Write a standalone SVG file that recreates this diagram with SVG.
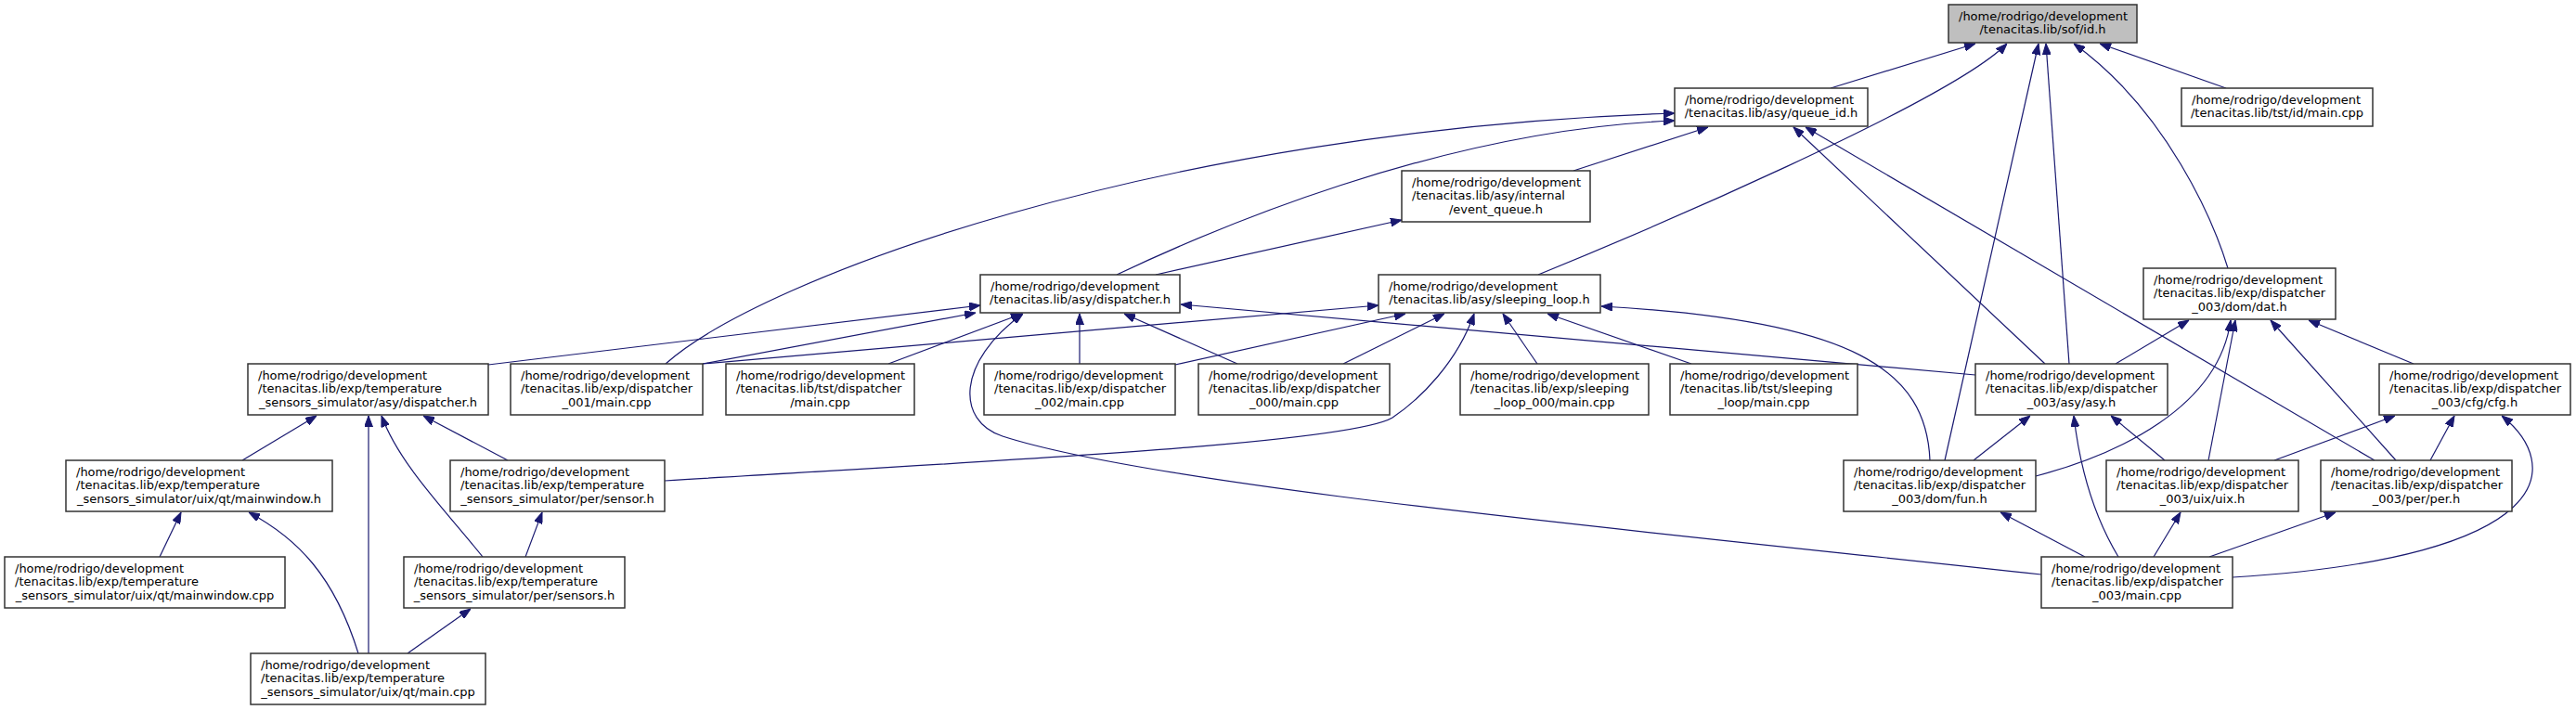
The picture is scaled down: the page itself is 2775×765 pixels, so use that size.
<svg xmlns="http://www.w3.org/2000/svg" width="2775" height="765" viewBox="0 0 2775 765">
<style>
.b{fill:#fff;stroke:#333;stroke-width:1.5}
.g{fill:#bfbfbf;stroke:#333;stroke-width:1.5}
text{font-family:"DejaVu Sans","Liberation Sans",sans-serif;font-size:13px;fill:#000}
.m{text-anchor:middle}
.e path{fill:none;stroke:#191970;stroke-width:1.2;marker-end:url(#ah)}
</style>
<defs>
<marker id="ah" markerWidth="12" markerHeight="9" refX="12" refY="4.5" orient="auto" markerUnits="userSpaceOnUse"><path d="M0,0 L12,4.5 L0,9 z" fill="#191970" stroke="#191970" stroke-width="1"/></marker>
</defs>
<rect width="2775" height="765" fill="#fff"/>
<g class="e" id="edges">
<path d="M1972,95 L2128,47"/>
<path d="M1657,296 C1760,254 2100,110 2162,47"/>
<path d="M2095,496 L2196,47"/>
<path d="M2229,392 L2204,47"/>
<path d="M2400,289 C2385,240 2335,120 2234,47"/>
<path d="M2398,95 L2262,47"/>
<path d="M1695,184 L1840,137"/>
<path d="M1203,296 C1300,250 1550,140 1804,130"/>
<path d="M717,392 C820,300 1250,140 1804,122"/>
<path d="M2203,392 L1932,137"/>
<path d="M2558,496 L1945,137"/>
<path d="M1245,296 L1510,237"/>
<path d="M526,393 L1056,329"/>
<path d="M757,392 L1051,337"/>
<path d="M957,392 L1101,338"/>
<path d="M1163,392 L1163,338"/>
<path d="M1333,392 L1211,338"/>
<path d="M2128,404 L1272,328"/>
<path d="M2199,619 C1800,575 1250,525 1080,470 C1030,454 1030,390 1102,338"/>
<path d="M757,392 L1485,329"/>
<path d="M1266,393 L1514,338"/>
<path d="M1447,392 L1556,338"/>
<path d="M716,518 C1000,500 1450,480 1500,450 C1530,430 1570,390 1588,338"/>
<path d="M1656,392 L1619,338"/>
<path d="M1822,392 L1667,338"/>
<path d="M2079,496 C2075,400 2000,345 1725,330"/>
<path d="M261,496 L341,448"/>
<path d="M397,704 L397,448"/>
<path d="M520,600 C480,550 430,500 411,448"/>
<path d="M547,496 L456,448"/>
<path d="M172,600 L195,552"/>
<path d="M386,704 C360,620 320,580 268,552"/>
<path d="M566,600 L584,552"/>
<path d="M439,704 L507,656"/>
<path d="M2279,392 L2358,345"/>
<path d="M2193,513 C2280,490 2390,440 2403,345"/>
<path d="M2379,496 L2408,345"/>
<path d="M2581,496 L2446,345"/>
<path d="M2600,392 L2487,345"/>
<path d="M2126,496 L2187,448"/>
<path d="M2282,600 C2255,555 2240,500 2234,448"/>
<path d="M2332,496 L2274,448"/>
<path d="M2450,496 L2580,448"/>
<path d="M2618,496 L2644,448"/>
<path d="M2405,622 C2760,600 2760,500 2695,448"/>
<path d="M2246,600 L2155,552"/>
<path d="M2320,600 L2349,552"/>
<path d="M2380,600 L2516,552"/>
</g>
<g id="n_id"><rect class="g" x="2099" y="5" width="203" height="41"/><text x="2110" y="21.5">/home/rodrigo/development</text><text class="m" x="2200.5" y="35.5">/tenacitas.lib/sof/id.h</text></g>
<g id="n_queue"><rect class="b" x="1804" y="95" width="208" height="41"/><text x="1815" y="111.5">/home/rodrigo/development</text><text class="m" x="1908" y="125.5">/tenacitas.lib/asy/queue_id.h</text></g>
<g id="n_tstid"><rect class="b" x="2350" y="95" width="206" height="41"/><text x="2361" y="111.5">/home/rodrigo/development</text><text class="m" x="2453" y="125.5">/tenacitas.lib/tst/id/main.cpp</text></g>
<g id="n_evq"><rect class="b" x="1510" y="184" width="203" height="55"/><text x="1521" y="201">/home/rodrigo/development</text><text x="1521" y="215.3">/tenacitas.lib/asy/internal</text><text class="m" x="1611.5" y="229.6">/event_queue.h</text></g>
<g id="n_disp"><rect class="b" x="1056" y="296" width="215" height="41"/><text x="1067" y="312.5">/home/rodrigo/development</text><text class="m" x="1163.5" y="326.5">/tenacitas.lib/asy/dispatcher.h</text></g>
<g id="n_sleep"><rect class="b" x="1485" y="296" width="239" height="41"/><text x="1496" y="312.5">/home/rodrigo/development</text><text class="m" x="1604.5" y="326.5">/tenacitas.lib/asy/sleeping_loop.h</text></g>
<g id="n_dat"><rect class="b" x="2309" y="289" width="207" height="55"/><text x="2320" y="306">/home/rodrigo/development</text><text x="2320" y="320.3">/tenacitas.lib/exp/dispatcher</text><text class="m" x="2412.5" y="334.6">_003/dom/dat.h</text></g>
<g id="n_tdisp"><rect class="b" x="267" y="392" width="259" height="55"/><text x="278" y="409">/home/rodrigo/development</text><text x="278" y="423.3">/tenacitas.lib/exp/temperature</text><text class="m" x="396.5" y="437.6">_sensors_simulator/asy/dispatcher.h</text></g>
<g id="n_d001"><rect class="b" x="550" y="392" width="207" height="55"/><text x="561" y="409">/home/rodrigo/development</text><text x="561" y="423.3">/tenacitas.lib/exp/dispatcher</text><text class="m" x="653.5" y="437.6">_001/main.cpp</text></g>
<g id="n_tstdisp"><rect class="b" x="782" y="392" width="203" height="55"/><text x="793" y="409">/home/rodrigo/development</text><text x="793" y="423.3">/tenacitas.lib/tst/dispatcher</text><text class="m" x="883.5" y="437.6">/main.cpp</text></g>
<g id="n_d002"><rect class="b" x="1060" y="392" width="206" height="55"/><text x="1071" y="409">/home/rodrigo/development</text><text x="1071" y="423.3">/tenacitas.lib/exp/dispatcher</text><text class="m" x="1163" y="437.6">_002/main.cpp</text></g>
<g id="n_d000"><rect class="b" x="1291" y="392" width="206" height="55"/><text x="1302" y="409">/home/rodrigo/development</text><text x="1302" y="423.3">/tenacitas.lib/exp/dispatcher</text><text class="m" x="1394" y="437.6">_000/main.cpp</text></g>
<g id="n_sl000"><rect class="b" x="1573" y="392" width="203" height="55"/><text x="1584" y="409">/home/rodrigo/development</text><text x="1584" y="423.3">/tenacitas.lib/exp/sleeping</text><text class="m" x="1674.5" y="437.6">_loop_000/main.cpp</text></g>
<g id="n_tstsl"><rect class="b" x="1799" y="392" width="202" height="55"/><text x="1810" y="409">/home/rodrigo/development</text><text x="1810" y="423.3">/tenacitas.lib/tst/sleeping</text><text class="m" x="1900" y="437.6">_loop/main.cpp</text></g>
<g id="n_asy"><rect class="b" x="2128" y="392" width="207" height="55"/><text x="2139" y="409">/home/rodrigo/development</text><text x="2139" y="423.3">/tenacitas.lib/exp/dispatcher</text><text class="m" x="2231.5" y="437.6">_003/asy/asy.h</text></g>
<g id="n_cfg"><rect class="b" x="2563" y="392" width="206" height="55"/><text x="2574" y="409">/home/rodrigo/development</text><text x="2574" y="423.3">/tenacitas.lib/exp/dispatcher</text><text class="m" x="2666" y="437.6">_003/cfg/cfg.h</text></g>
<g id="n_mwh"><rect class="b" x="71" y="496" width="287" height="55"/><text x="82" y="513">/home/rodrigo/development</text><text x="82" y="527.3">/tenacitas.lib/exp/temperature</text><text class="m" x="214.5" y="541.6">_sensors_simulator/uix/qt/mainwindow.h</text></g>
<g id="n_sensor"><rect class="b" x="485" y="496" width="231" height="55"/><text x="496" y="513">/home/rodrigo/development</text><text x="496" y="527.3">/tenacitas.lib/exp/temperature</text><text class="m" x="600.5" y="541.6">_sensors_simulator/per/sensor.h</text></g>
<g id="n_fun"><rect class="b" x="1986" y="496" width="207" height="55"/><text x="1997" y="513">/home/rodrigo/development</text><text x="1997" y="527.3">/tenacitas.lib/exp/dispatcher</text><text class="m" x="2089.5" y="541.6">_003/dom/fun.h</text></g>
<g id="n_uix"><rect class="b" x="2269" y="496" width="207" height="55"/><text x="2280" y="513">/home/rodrigo/development</text><text x="2280" y="527.3">/tenacitas.lib/exp/dispatcher</text><text class="m" x="2372.5" y="541.6">_003/uix/uix.h</text></g>
<g id="n_per"><rect class="b" x="2500" y="496" width="206" height="55"/><text x="2511" y="513">/home/rodrigo/development</text><text x="2511" y="527.3">/tenacitas.lib/exp/dispatcher</text><text class="m" x="2603" y="541.6">_003/per/per.h</text></g>
<g id="n_mwcpp"><rect class="b" x="5" y="600" width="302" height="55"/><text x="16" y="617">/home/rodrigo/development</text><text x="16" y="631.3">/tenacitas.lib/exp/temperature</text><text class="m" x="156" y="645.6">_sensors_simulator/uix/qt/mainwindow.cpp</text></g>
<g id="n_sensors"><rect class="b" x="435" y="600" width="238" height="55"/><text x="446" y="617">/home/rodrigo/development</text><text x="446" y="631.3">/tenacitas.lib/exp/temperature</text><text class="m" x="554" y="645.6">_sensors_simulator/per/sensors.h</text></g>
<g id="n_main003"><rect class="b" x="2199" y="600" width="206" height="55"/><text x="2210" y="617">/home/rodrigo/development</text><text x="2210" y="631.3">/tenacitas.lib/exp/dispatcher</text><text class="m" x="2302" y="645.6">_003/main.cpp</text></g>
<g id="n_qtmain"><rect class="b" x="270" y="704" width="253" height="55"/><text x="281" y="721">/home/rodrigo/development</text><text x="281" y="735.3">/tenacitas.lib/exp/temperature</text><text class="m" x="396.5" y="749.6">_sensors_simulator/uix/qt/main.cpp</text></g>
</svg>
